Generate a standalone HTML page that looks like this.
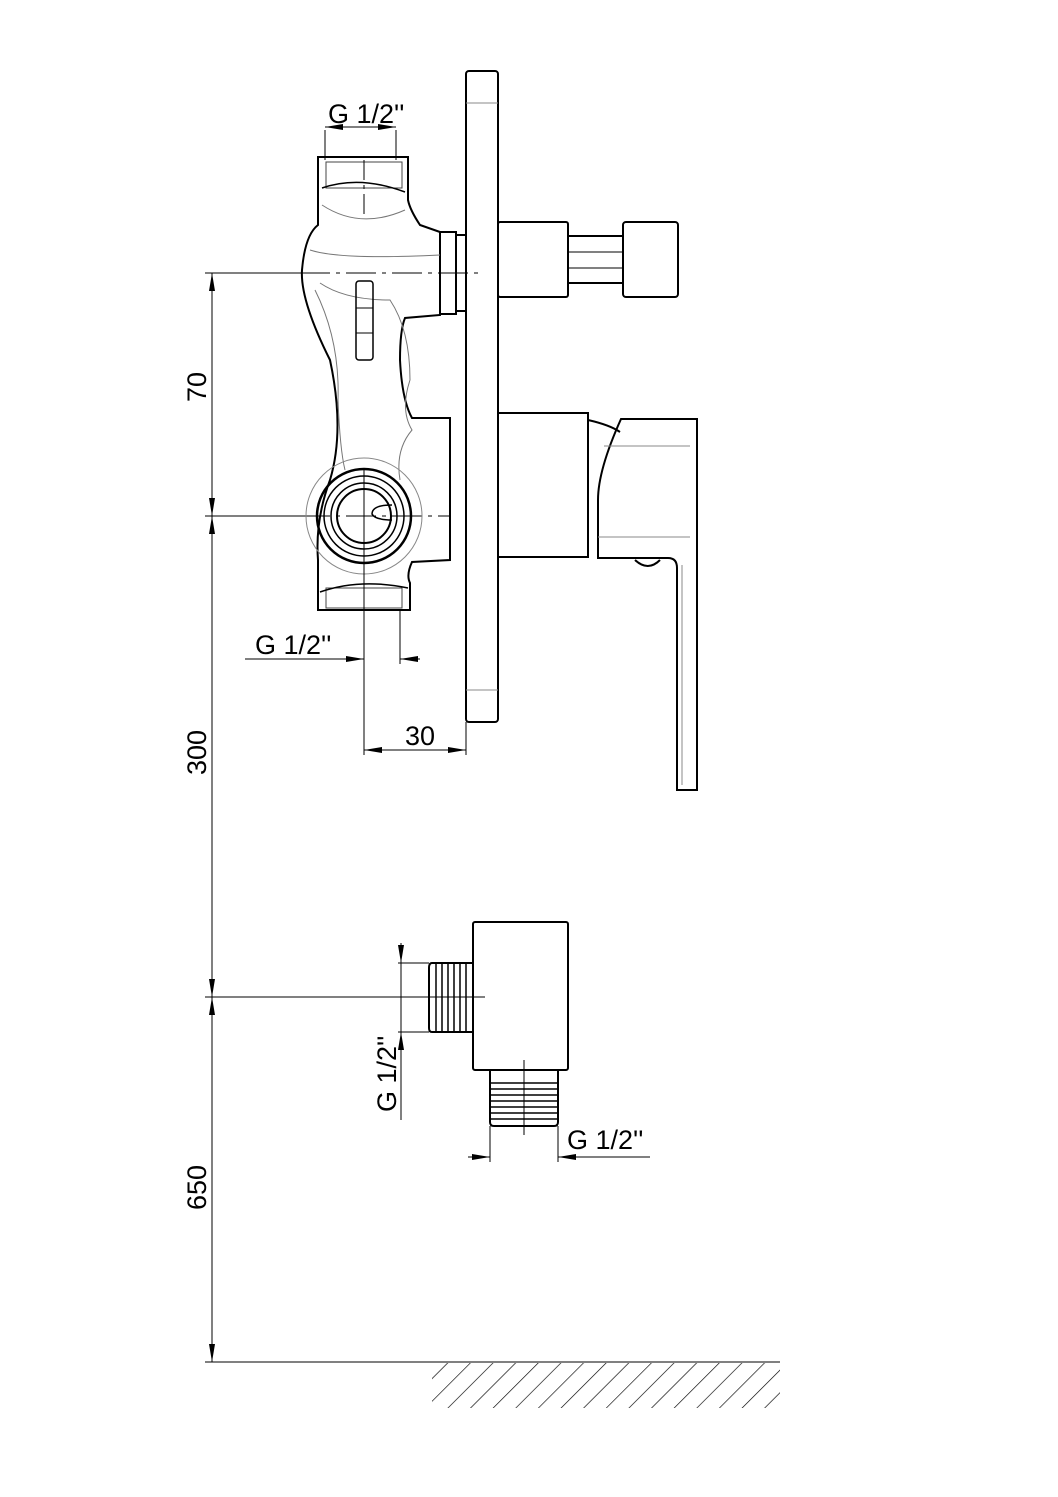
<!DOCTYPE html>
<html><head><meta charset="utf-8"><style>
html,body{margin:0;padding:0;background:#fff}
svg{display:block}
text{font-family:"Liberation Sans",sans-serif;font-size:27px;fill:#000}
</style></head><body>
<svg width="1058" height="1497" viewBox="0 0 1058 1497" xmlns="http://www.w3.org/2000/svg">
<defs>
<marker id="a" viewBox="0 0 18 6" refX="18" refY="3" markerWidth="18" markerHeight="6" orient="auto-start-reverse" markerUnits="userSpaceOnUse"><path d="M0,0L18,3L0,6z" fill="#000"/></marker>
<pattern id="h" width="16" height="16" patternUnits="userSpaceOnUse" patternTransform="rotate(45)"><line x1="0" y1="0" x2="0" y2="16" stroke="#000" stroke-width="1.3"/></pattern>
</defs>
<g fill="none" stroke="#000" stroke-width="1">
<line x1="212" y1="273" x2="212" y2="516" marker-start="url(#a)" marker-end="url(#a)"/>
<line x1="212" y1="516" x2="212" y2="997" marker-start="url(#a)" marker-end="url(#a)"/>
<line x1="212" y1="997" x2="212" y2="1362" marker-start="url(#a)" marker-end="url(#a)"/>
<line x1="205" y1="273" x2="300" y2="273"/>
<line x1="300" y1="273" x2="482" y2="273" stroke-dasharray="30 6 4 6"/>
<line x1="205" y1="516" x2="300" y2="516"/>
<line x1="300" y1="516" x2="450" y2="516" stroke-dasharray="30 6 4 6"/>
<line x1="205" y1="997" x2="485" y2="997"/>
<line x1="205" y1="1362" x2="780" y2="1362"/>
<rect x="432" y="1363" width="348" height="45" fill="url(#h)" stroke="none"/>
<rect x="466" y="71" width="32" height="651" rx="3" stroke-width="2"/>
<line x1="466" y1="103" x2="498" y2="103" stroke="#888"/>
<line x1="466" y1="690" x2="498" y2="690" stroke="#888"/>
<rect x="440" y="232" width="16" height="82" stroke-width="2"/>
<rect x="456" y="235" width="10" height="76" stroke-width="2"/>
<rect x="498" y="222" width="70" height="75" rx="2" stroke-width="2"/>
<line x1="568" y1="236" x2="623" y2="236" stroke-width="2"/>
<line x1="568" y1="283" x2="623" y2="283" stroke-width="2"/>
<line x1="568" y1="252" x2="623" y2="252"/><line x1="568" y1="268" x2="623" y2="268"/>
<rect x="623" y="222" width="55" height="75" rx="3" stroke-width="2"/>
<rect x="498" y="413" width="90" height="144" stroke-width="2"/>
<path d="M588,420 Q610,425 620,432" stroke-width="2"/>
<path d="M621,419 L697,419 L697,790 L677,790 L677,568 Q677,558 668,558 L598,558 L598,500 Q598,470 621,419Z" stroke-width="2"/>
<line x1="604" y1="446" x2="690" y2="446" stroke="#888"/>
<line x1="598" y1="537" x2="690" y2="537" stroke="#888"/>
<line x1="682" y1="565" x2="682" y2="785" stroke="#888"/>
<path d="M635,560 Q648,572 660,560" stroke-width="2"/>
<path d="M318,157 L408,157 L408,200 Q410,210 420,225 L440,232 L440,315 L405,318 Q400,330 400,360 Q402,400 412,418 L450,418 L450,560 L412,562 Q406,575 410,583 L410,610 L318,610 L318,560 Q315,520 330,480 Q345,430 330,360 Q300,300 302,270 Q305,235 318,225 Z" stroke-width="2"/>
<rect x="326" y="162" width="76" height="26" stroke="#444"/>
<path d="M322,188 Q360,175 405,192" stroke-width="1.5"/>
<path d="M322,205 Q360,230 405,210" stroke="#777"/>
<path d="M310,250 Q340,260 440,255" stroke="#777"/>
<path d="M320,283 Q345,300 390,300 Q410,330 410,380 Q400,410 412,430 Q395,450 400,480" stroke="#777"/>
<path d="M315,290 Q340,340 338,400 Q340,450 345,470" stroke="#777"/>
<rect x="356" y="281" width="17" height="79" rx="3" stroke-width="1.5"/>
<line x1="356" y1="308" x2="373" y2="308"/><line x1="356" y1="333" x2="373" y2="333"/>
<circle cx="364" cy="516" r="47" stroke-width="2.5"/>
<circle cx="364" cy="516" r="40" stroke-width="1.5"/>
<circle cx="364" cy="516" r="33" stroke-width="1.5"/>
<circle cx="364" cy="516" r="27" stroke-width="2"/>
<path d="M392,505 Q372,505 372,514 Q375,520 392,520" stroke-width="1.5"/>
<circle cx="364" cy="516" r="58" stroke="#888"/>
<rect x="326" y="588" width="76" height="20" stroke="#444"/>
<path d="M320,592 Q360,578 408,588" stroke-width="1.5"/>
<line x1="364" y1="160" x2="364" y2="215" stroke-dasharray="20 5 4 5"/>
<line x1="364" y1="470" x2="364" y2="755"/>
<line x1="325" y1="130" x2="325" y2="160"/><line x1="396" y1="130" x2="396" y2="160"/>
<line x1="325" y1="127" x2="396" y2="127" marker-start="url(#a)" marker-end="url(#a)"/>
<line x1="400" y1="610" x2="400" y2="664"/>
<line x1="245" y1="659" x2="364" y2="659" marker-end="url(#a)"/>
<line x1="420" y1="659" x2="400" y2="659" marker-end="url(#a)"/>
<line x1="364" y1="750" x2="466" y2="750" marker-start="url(#a)" marker-end="url(#a)"/>
<line x1="466" y1="722" x2="466" y2="755"/>
<rect x="473" y="922" width="95" height="148" rx="2" stroke-width="2"/>
<path d="M473,963 L432,963 Q429,963 429,968 L429,1028 Q429,1032 432,1032 L473,1032" stroke-width="2"/>
<g stroke-width="1.5"><line x1="436" y1="964" x2="436" y2="1031"/><line x1="442" y1="964" x2="442" y2="1031"/><line x1="448" y1="964" x2="448" y2="1031"/><line x1="454" y1="964" x2="454" y2="1031"/><line x1="460" y1="964" x2="460" y2="1031"/><line x1="466" y1="964" x2="466" y2="1031"/></g>
<path d="M490,1070 L490,1122 Q490,1126 494,1126 L554,1126 Q558,1126 558,1122 L558,1070" stroke-width="2"/>
<g stroke-width="1.5"><line x1="490" y1="1083" x2="558" y2="1083"/><line x1="490" y1="1089" x2="558" y2="1089"/><line x1="490" y1="1095" x2="558" y2="1095"/><line x1="490" y1="1101" x2="558" y2="1101"/><line x1="490" y1="1107" x2="558" y2="1107"/><line x1="490" y1="1113" x2="558" y2="1113"/><line x1="490" y1="1119" x2="558" y2="1119"/></g>
<line x1="524" y1="1060" x2="524" y2="1135"/>
<line x1="398" y1="963" x2="429" y2="963"/><line x1="398" y1="1032" x2="429" y2="1032"/>
<line x1="401" y1="943" x2="401" y2="963" marker-end="url(#a)"/>
<line x1="401" y1="1120" x2="401" y2="1032" marker-end="url(#a)"/>
<line x1="401" y1="963" x2="401" y2="1032"/>
<line x1="490" y1="1126" x2="490" y2="1162"/><line x1="558" y1="1126" x2="558" y2="1162"/>
<line x1="468" y1="1157" x2="490" y2="1157" marker-end="url(#a)"/>
<line x1="650" y1="1157" x2="558" y2="1157" marker-end="url(#a)"/>
</g>
<text x="328" y="123">G 1/2''</text>
<text x="255" y="654">G 1/2''</text>
<text x="405" y="745">30</text>
<text x="567" y="1149">G 1/2''</text>
<text transform="translate(206,402) rotate(-90)">70</text>
<text transform="translate(206,775) rotate(-90)">300</text>
<text transform="translate(206,1210) rotate(-90)">650</text>
<text transform="translate(396,1112) rotate(-90)">G 1/2''</text>
</svg>
</body></html>
